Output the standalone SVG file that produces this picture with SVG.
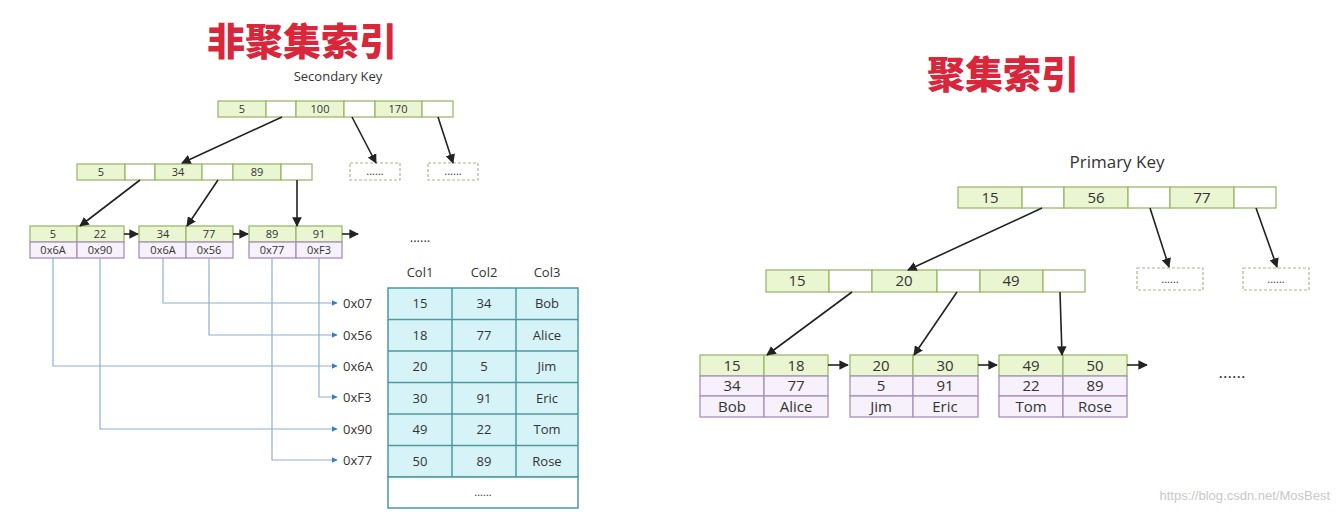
<svg xmlns="http://www.w3.org/2000/svg" width="1339" height="513" viewBox="0 0 1339 513">
<defs>
<marker id="ah" viewBox="0 0 10 10" refX="9" refY="5" markerWidth="6" markerHeight="6" orient="auto"><path d="M0,0 L10,5 L0,10 z" fill="#222"/></marker>
<marker id="bh" viewBox="0 0 10 10" refX="9" refY="5" markerWidth="5" markerHeight="5" orient="auto"><path d="M0,0 L10,5 L0,10 z" fill="#3a7ec0"/></marker>
<style>
.g{fill:#eaf5d2;stroke:#9cb86a;stroke-width:1.3}
.w{fill:#fff;stroke:#9cb86a;stroke-width:1.3}
.p{fill:#f7f1fb;stroke:#a890c0;stroke-width:1.3}
.d{fill:#fff;stroke:#a8b890;stroke-width:1.2;stroke-dasharray:3,2}
.t{font-family:"Open Sans","Liberation Sans",sans-serif;fill:#333;text-anchor:middle}
.s{font-size:11px}.m{font-size:13px}.l{font-size:15px}
.a{stroke:#222;stroke-width:1.6;fill:none;marker-end:url(#ah)}
.b{stroke:#8fb0d0;stroke-width:1.2;fill:none}
.tb{fill:#d6f3f8;stroke:#4a9aa0;stroke-width:1.5}
.title{font-family:"Noto Sans CJK SC",sans-serif;font-weight:900;fill:#d9263a;font-size:38px;text-anchor:middle}
</style>
</defs>
<rect width="1339" height="513" fill="#fff"/>
<text class="title" x="302" y="55">非聚集索引</text>
<text class="t m" x="338" y="81">Secondary Key</text>
<text class="title" x="1003" y="88">聚集索引</text>
<text class="t" x="1117" y="168" font-size="17">Primary Key</text>

<g id="s-root">
<rect class="g" x="218" y="101" width="48" height="16"/><rect class="w" x="266" y="101" width="30" height="16"/>
<rect class="g" x="296" y="101" width="48" height="16"/><rect class="w" x="344" y="101" width="31" height="16"/>
<rect class="g" x="375" y="101" width="47" height="16"/><rect class="w" x="422" y="101" width="31" height="16"/>
<text class="t s" x="242" y="113">5</text><text class="t s" x="320" y="113">100</text><text class="t s" x="398" y="113">170</text>
</g>
<g id="s-d1"><rect class="d" x="350" y="163" width="50" height="17"/><text class="t s" x="375" y="175">......</text></g>
<g id="s-d2"><rect class="d" x="428" y="163" width="50" height="17"/><text class="t s" x="453" y="175">......</text></g>
<g id="s-l2">
<rect class="g" x="77" y="164" width="48" height="16"/><rect class="w" x="125" y="164" width="30" height="16"/>
<rect class="g" x="155" y="164" width="47" height="16"/><rect class="w" x="202" y="164" width="31" height="16"/>
<rect class="g" x="233" y="164" width="48" height="16"/><rect class="w" x="281" y="164" width="31" height="16"/>
<text class="t s" x="101" y="176">5</text><text class="t s" x="178" y="176">34</text><text class="t s" x="257" y="176">89</text>
</g>
<g id="s-leaf1">
<rect class="g" x="30" y="226" width="47" height="16"/><rect class="g" x="77" y="226" width="47" height="16"/>
<rect class="p" x="30" y="242" width="47" height="16"/><rect class="p" x="77" y="242" width="47" height="16"/>
<text class="t s" x="53" y="238">5</text><text class="t s" x="100" y="238">22</text>
<text class="t s" x="53" y="254">0x6A</text><text class="t s" x="100" y="254">0x90</text>
</g>
<g id="s-leaf2">
<rect class="g" x="139" y="226" width="47" height="16"/><rect class="g" x="186" y="226" width="47" height="16"/>
<rect class="p" x="139" y="242" width="47" height="16"/><rect class="p" x="186" y="242" width="47" height="16"/>
<text class="t s" x="163" y="238">34</text><text class="t s" x="209" y="238">77</text>
<text class="t s" x="163" y="254">0x6A</text><text class="t s" x="209" y="254">0x56</text>
</g>
<g id="s-leaf3">
<rect class="g" x="249" y="226" width="47" height="16"/><rect class="g" x="296" y="226" width="46" height="16"/>
<rect class="p" x="249" y="242" width="47" height="16"/><rect class="p" x="296" y="242" width="46" height="16"/>
<text class="t s" x="272" y="238">89</text><text class="t s" x="319" y="238">91</text>
<text class="t s" x="272" y="254">0x77</text><text class="t s" x="319" y="254">0xF3</text>
</g>
<text class="t m" x="420" y="242">......</text>

<g id="table">
<text class="t m" x="420" y="277">Col1</text><text class="t m" x="484" y="277">Col2</text><text class="t m" x="547" y="277">Col3</text>
<rect class="tb" x="388" y="288" width="190" height="189"/>
<rect x="388" y="477" width="190" height="31" fill="#fff" stroke="#4a9aa0" stroke-width="1.5"/>
<g stroke="#4a9aa0" stroke-width="1.5">
<line x1="452" y1="288" x2="452" y2="477"/><line x1="516" y1="288" x2="516" y2="477"/>
<line x1="388" y1="319.5" x2="578" y2="319.5"/><line x1="388" y1="351" x2="578" y2="351"/>
<line x1="388" y1="382.5" x2="578" y2="382.5"/><line x1="388" y1="414" x2="578" y2="414"/>
<line x1="388" y1="445.5" x2="578" y2="445.5"/>
</g>
<g class="t m">
<text x="420" y="308">15</text><text x="484" y="308">34</text><text x="547" y="308">Bob</text>
<text x="420" y="340">18</text><text x="484" y="340">77</text><text x="547" y="340">Alice</text>
<text x="420" y="371">20</text><text x="484" y="371">5</text><text x="547" y="371">Jim</text>
<text x="420" y="403">30</text><text x="484" y="403">91</text><text x="547" y="403">Eric</text>
<text x="420" y="434">49</text><text x="484" y="434">22</text><text x="547" y="434">Tom</text>
<text x="420" y="466">50</text><text x="484" y="466">89</text><text x="547" y="466">Rose</text>
</g>
<text class="t s" x="483" y="496">......</text>
<g class="t m" text-anchor="start">
<text x="343" y="308" text-anchor="start">0x07</text><text x="343" y="340" text-anchor="start">0x56</text>
<text x="343" y="371" text-anchor="start">0x6A</text><text x="343" y="402" text-anchor="start">0xF3</text>
<text x="343" y="434" text-anchor="start">0x90</text><text x="343" y="465" text-anchor="start">0x77</text>
</g>
</g>

<g id="c-root">
<rect class="g" x="958" y="187" width="64" height="21"/><rect class="w" x="1022" y="187" width="42" height="21"/>
<rect class="g" x="1064" y="187" width="64" height="21"/><rect class="w" x="1128" y="187" width="42" height="21"/>
<rect class="g" x="1170" y="187" width="64" height="21"/><rect class="w" x="1234" y="187" width="42" height="21"/>
<text class="t l" x="990" y="203">15</text><text class="t l" x="1096" y="203">56</text><text class="t l" x="1202" y="203">77</text>
</g>
<g id="c-d1"><rect class="d" x="1137" y="268" width="66" height="22"/><text class="t s" x="1170" y="283">......</text></g>
<g id="c-d2"><rect class="d" x="1243" y="268" width="66" height="22"/><text class="t s" x="1276" y="283">......</text></g>
<g id="c-l2">
<rect class="g" x="766" y="270" width="63" height="22"/><rect class="w" x="829" y="270" width="43" height="22"/>
<rect class="g" x="872" y="270" width="65" height="22"/><rect class="w" x="937" y="270" width="43" height="22"/>
<rect class="g" x="980" y="270" width="63" height="22"/><rect class="w" x="1043" y="270" width="42" height="22"/>
<text class="t l" x="797" y="286">15</text><text class="t l" x="904" y="286">20</text><text class="t l" x="1011" y="286">49</text>
</g>
<g id="c-leaf1">
<rect class="g" x="700" y="355" width="64" height="21"/><rect class="g" x="764" y="355" width="64" height="21"/>
<rect class="p" x="700" y="376" width="64" height="20"/><rect class="p" x="764" y="376" width="64" height="20"/>
<rect class="p" x="700" y="396" width="64" height="21"/><rect class="p" x="764" y="396" width="64" height="21"/>
<text class="t l" x="732" y="371">15</text><text class="t l" x="796" y="371">18</text>
<text class="t l" x="732" y="391">34</text><text class="t l" x="796" y="391">77</text>
<text class="t l" x="732" y="412">Bob</text><text class="t l" x="796" y="412">Alice</text>
</g>
<g id="c-leaf2">
<rect class="g" x="850" y="355" width="63" height="21"/><rect class="g" x="913" y="355" width="65" height="21"/>
<rect class="p" x="850" y="376" width="63" height="20"/><rect class="p" x="913" y="376" width="65" height="20"/>
<rect class="p" x="850" y="396" width="63" height="21"/><rect class="p" x="913" y="396" width="65" height="21"/>
<text class="t l" x="881" y="371">20</text><text class="t l" x="945" y="371">30</text>
<text class="t l" x="881" y="391">5</text><text class="t l" x="945" y="391">91</text>
<text class="t l" x="881" y="412">Jim</text><text class="t l" x="945" y="412">Eric</text>
</g>
<g id="c-leaf3">
<rect class="g" x="999" y="355" width="64" height="21"/><rect class="g" x="1063" y="355" width="64" height="21"/>
<rect class="p" x="999" y="376" width="64" height="20"/><rect class="p" x="1063" y="376" width="64" height="20"/>
<rect class="p" x="999" y="396" width="64" height="21"/><rect class="p" x="1063" y="396" width="64" height="21"/>
<text class="t l" x="1031" y="371">49</text><text class="t l" x="1095" y="371">50</text>
<text class="t l" x="1031" y="391">22</text><text class="t l" x="1095" y="391">89</text>
<text class="t l" x="1031" y="412">Tom</text><text class="t l" x="1095" y="412">Rose</text>
</g>
<text class="t" x="1232" y="378" font-size="17">......</text>

<g id="connectors">
<line class="a" x1="282" y1="117" x2="182" y2="163"/>
<line class="a" x1="352" y1="117" x2="376" y2="163"/>
<line class="a" x1="438" y1="117" x2="453" y2="163"/>
<line class="a" x1="140" y1="180" x2="80" y2="226"/>
<line class="a" x1="218" y1="180" x2="187" y2="226"/>
<line class="a" x1="297" y1="180" x2="297" y2="226"/>
<line class="a" x1="124" y1="234" x2="138" y2="234"/>
<line class="a" x1="233" y1="234" x2="248" y2="234"/>
<line class="a" x1="342" y1="234" x2="358" y2="234"/>
<path class="b" marker-end="url(#bh)" d="M163,258 V303 H337"/>
<path class="b" marker-end="url(#bh)" d="M209,258 V335 H337"/>
<path class="b" marker-end="url(#bh)" d="M53,258 V366 H337"/>
<path class="b" marker-end="url(#bh)" d="M319,258 V397 H337"/>
<path class="b" marker-end="url(#bh)" d="M100,258 V429 H337"/>
<path class="b" marker-end="url(#bh)" d="M272,258 V460 H337"/>
<line class="a" x1="1042" y1="208" x2="908" y2="270"/>
<line class="a" x1="1150" y1="208" x2="1169" y2="267"/>
<line class="a" x1="1256" y1="208" x2="1277" y2="267"/>
<line class="a" x1="852" y1="292" x2="767" y2="355"/>
<line class="a" x1="957" y1="292" x2="914" y2="355"/>
<line class="a" x1="1060" y1="292" x2="1062" y2="355"/>
<line class="a" x1="828" y1="365" x2="848" y2="365"/>
<line class="a" x1="978" y1="365" x2="997" y2="365"/>
<line class="a" x1="1127" y1="365" x2="1147" y2="365"/>
</g>
<text x="1330" y="500" font-family="Liberation Sans,sans-serif" font-size="13" fill="#c8c8c8" text-anchor="end">https://blog.csdn.net/MosBest</text>
</svg>
